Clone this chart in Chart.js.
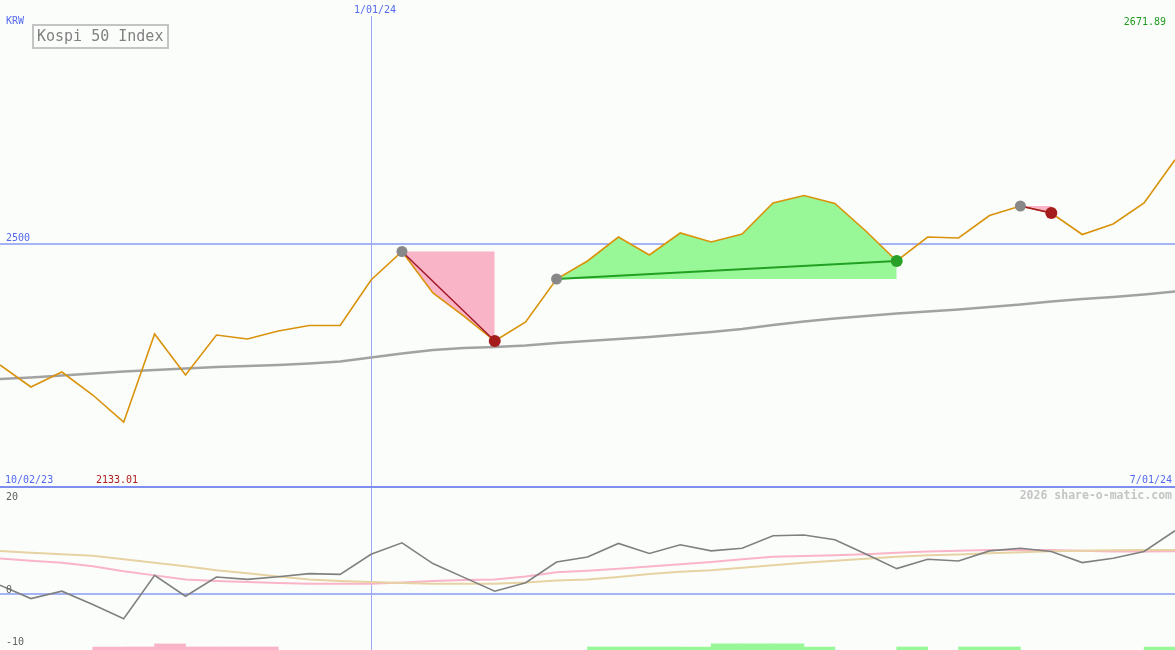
<!DOCTYPE html>
<html><head><meta charset="utf-8">
<script src="https://cdn.jsdelivr.net/npm/chart.js@4.4.1/dist/chart.umd.min.js"></script>
<style>
html,body{margin:0;padding:0;background:#fbfdfb;}
#wrap{position:relative;width:1175px;height:650px;overflow:hidden;background:#fbfdfb;font-family:"DejaVu Sans Mono",monospace;}
#c1{position:absolute;left:0;top:0;}
#c2{position:absolute;left:0;top:488px;}
#sep{position:absolute;left:0;top:486px;width:1175px;height:2px;background:#7e8ef0;}
.lbl{position:absolute;font-size:10px;line-height:10px;white-space:nowrap;}
.blue{color:#5468f0;}
.dk{color:#606060;}
#title{position:absolute;left:32px;top:24px;width:133px;height:21px;border:2px solid #c4c4c4;background:#fbfdfb;}
#title span{position:absolute;left:3px;top:2.5px;font-size:15px;line-height:15px;color:#808080;white-space:nowrap;}
#brand{position:absolute;right:3px;top:490px;font-size:11.5px;line-height:11.5px;font-weight:bold;color:#c4c4c4;white-space:nowrap;}
</style></head>
<body>
<div id="wrap">
  <canvas id="c1" width="1175" height="487"></canvas>
  <canvas id="c2" width="1175" height="162"></canvas>
  <div id="sep"></div>
  <div id="title"><span>Kospi 50 Index</span></div>
  <div class="lbl blue" id="unit" style="left:6px;top:16px;"></div>
  <div class="lbl blue" id="dMid" style="left:354px;top:4.5px;"></div>
  <div class="lbl" id="lastLbl" style="right:9px;top:16.5px;color:#1e9a1e;"></div>
  <div class="lbl blue" id="lvlLbl" style="left:6px;top:233px;"></div>
  <div class="lbl blue" id="dFirst" style="left:5px;top:474.5px;"></div>
  <div class="lbl" id="minLbl" style="left:96px;top:474.5px;color:#b01c1c;"></div>
  <div class="lbl blue" id="dLast" style="right:3px;top:474.5px;"></div>
  <div id="brand">2026 share-o-matic.com</div>
  <div class="lbl dk" id="t0" style="left:6px;top:491.5px;"></div>
  <div class="lbl dk" id="t1" style="left:6px;top:584.5px;"></div>
  <div class="lbl dk" id="t2" style="left:6px;top:636.5px;"></div>
</div>
<script>
// ---------- data ----------
const dates = ['10/02/23','10/16/23','10/23/23','10/30/23','11/06/23','11/13/23','11/20/23','11/27/23','12/04/23','12/11/23','12/18/23','12/25/23',
  '1/01/24','1/08/24','1/15/24','1/22/24','1/29/24','2/05/24','2/12/24','2/19/24','2/26/24','3/04/24','3/11/24','3/18/24','3/25/24',
  '4/01/24','4/08/24','4/15/24','4/22/24','4/29/24','5/06/24','5/13/24','5/20/24','5/27/24','6/03/24','6/10/24','6/17/24','6/24/24','7/01/24'];
const price = [2250.5,2205.3,2236.1,2188.9,2133.01,2314.2,2229.9,2312.1,2303.9,2320.3,2331.6,2331.6,2425.0,2483.6,2398.4,2351.1,2299.8,2338.8,2427.1,2464.1,
  2513.3,2476.4,2521.6,2503.1,2519.5,2583.2,2598.6,2582.1,2525.7,2464.1,2513.3,2511.3,2557.5,2577.0,2562.6,2518.5,2540.0,2583.2,2671.89];
const movingAvg = [2221.8,2224.8,2228.9,2233.0,2237.2,2240.2,2243.3,2246.4,2248.5,2250.5,2253.6,2257.7,2265.9,2274.1,2281.3,2285.4,2287.5,2290.5,2295.7,2299.8,
  2303.9,2308.0,2313.1,2318.3,2324.4,2332.6,2339.8,2346.0,2351.1,2356.3,2360.4,2364.5,2369.6,2374.7,2380.9,2386.0,2390.1,2395.3,2401.4];
const tradeEntry = [13,18,33];
const tradeExit = [16,29,34];
const tradeWin = [false,true,false];
const momentum = [1.71,-0.82,0.57,-1.95,-4.61,3.55,-0.38,3.23,2.79,3.30,3.87,3.74,7.53,9.68,5.77,3.17,0.57,2.16,6.07,7.02,
  9.56,7.67,9.30,8.16,8.67,11.01,11.14,10.25,7.59,4.82,6.58,6.26,8.16,8.67,8.05,5.96,6.77,8.05,11.95];
const momAvgFast = [6.72,6.30,5.92,5.26,4.31,3.55,2.79,2.50,2.28,2.13,1.97,1.97,1.97,2.22,2.47,2.69,2.79,3.36,4.12,4.40,
  4.78,5.20,5.64,6.07,6.58,7.06,7.21,7.34,7.53,7.82,8.05,8.20,8.35,8.35,8.35,8.20,8.05,8.05,8.10];
const momAvgSlow = [8.16,7.82,7.53,7.25,6.58,5.92,5.26,4.50,3.93,3.36,2.79,2.50,2.28,2.13,1.97,1.97,1.97,2.22,2.60,2.79,
  3.26,3.83,4.21,4.50,4.97,5.45,5.92,6.30,6.68,7.06,7.34,7.48,7.72,7.91,8.10,8.20,8.29,8.35,8.35];
const signalStrip = [0,0,0,-1,-1,-2,-1,-1,-1,0, 0,0,0,0,0,0,0,0,0,1, 1,1,1,2,2,2,1,0,0,1, 0,1,1,0,0,0,0,1];
const priceLevels = [2500];
const lowerTicks = [20,0,-10];
const markDateIdx = 12;
const unitLabel = 'KRW';

// ---------- labels ----------
document.getElementById('unit').textContent = unitLabel;
document.getElementById('dMid').textContent = dates[markDateIdx];
document.getElementById('dFirst').textContent = dates[0];
document.getElementById('dLast').textContent = dates[dates.length-1];
document.getElementById('lastLbl').textContent = price[price.length-1].toFixed(2);
document.getElementById('minLbl').textContent = Math.min(...price).toFixed(2);
document.getElementById('lvlLbl').textContent = String(priceLevels[0]);
['t0','t1','t2'].forEach((id,k)=>document.getElementById(id).textContent = String(lowerTicks[k]));

// ---------- guide lines plugin ----------
const guides = {
  id:'guides',
  beforeDatasetsDraw(chart, args, o){
    const {ctx, chartArea:a, scales} = chart;
    ctx.save();
    (o.h||[]).forEach(v=>{
      const y = Math.round(scales.y.getPixelForValue(v));
      ctx.fillStyle = o.hColor; ctx.fillRect(a.left, y-1, a.right-a.left, 2);
    });
    (o.v||[]).forEach(i=>{
      const x = Math.round(scales.x.getPixelForValue(i));
      ctx.fillStyle = o.vColor; ctx.fillRect(x, o.vTop, 1, a.bottom-o.vTop);
    });
    ctx.restore();
  }
};
Chart.register(guides);

const PINK = '#f9b4c8', GREEN_FILL = '#98f898';
const common = {
  responsive:false, animation:false, events:[],
  layout:{padding:0, autoPadding:false},
  plugins:{legend:{display:false}, tooltip:{enabled:false}},
  elements:{point:{radius:0}, line:{tension:0}}
};

// ---------- top chart ----------
const topSets = [];
tradeEntry.forEach((e,t)=>{
  const x = tradeExit[t];
  topSets.push({
    data: price.map((v,i)=> (i>=e && i<=x) ? v : null),
    fill:{value: price[e]}, backgroundColor: tradeWin[t] ? GREEN_FILL : PINK,
    borderWidth:0, borderColor:'transparent', pointRadius:0, spanGaps:false, order:50
  });
  topSets.push({
    data: price.map((v,i)=> (i===e || i===x) ? v : null),
    spanGaps:true, borderColor: tradeWin[t] ? '#22a022' : '#a01828',
    borderWidth: tradeWin[t] ? 2 : 1.5, pointRadius:0, fill:false, order:5
  });
});
topSets.push({data: movingAvg, borderColor:'#a2a2a2', borderWidth:2.5, pointRadius:0, fill:false, order:60});
topSets.push({data: price, borderColor:'#d9920a', borderWidth:1.6, pointRadius:0, fill:false, order:10});
topSets.push({
  data: price.map((v,i)=> tradeEntry.includes(i) ? v : null),
  showLine:false, pointRadius:5.5, pointBackgroundColor:'#888888', pointBorderWidth:0, order:1
});
topSets.push({
  data: price.map((v,i)=> tradeExit.includes(i) ? v : null),
  showLine:false, pointRadius:6, pointBorderWidth:0,
  pointBackgroundColor: price.map((v,i)=>{ const t = tradeExit.indexOf(i); return t>=0 && tradeWin[t] ? '#28a028' : '#a51c1c'; }),
  order:0
});

new Chart(document.getElementById('c1'), {
  type:'line',
  data:{labels:dates, datasets:topSets},
  options:Object.assign({}, common, {
    scales:{
      x:{type:'category', display:false, offset:false},
      y:{type:'linear', display:false, min:2000, max:3000}
    },
    plugins:Object.assign({}, common.plugins, {
      guides:{h:priceLevels, hColor:'#a4b4f4', v:[markDateIdx], vColor:'#9aaaf8', vTop:16}
    })
  })
});

// ---------- lower chart ----------
const stripBase = -10.5, stripUnit = 0.57;
const intervals = dates.slice(0, dates.length-1);
new Chart(document.getElementById('c2'), {
  type:'line',
  data:{labels:dates, datasets:[
    {data: momentum, borderColor:'#808080', borderWidth:1.6, pointRadius:0, fill:false, order:1},
    {data: momAvgFast, borderColor:'#f9b4c8', borderWidth:2, pointRadius:0, fill:false, order:3},
    {data: momAvgSlow, borderColor:'#e6d2a2', borderWidth:2, pointRadius:0, fill:false, order:2},
    {type:'bar', xAxisID:'xb', order:5, grouped:false,
     data: signalStrip.map(s=> s===0 ? null : [stripBase, stripBase + Math.abs(s)*stripUnit]),
     backgroundColor: signalStrip.map(s=> s<0 ? PINK : GREEN_FILL),
     borderWidth:0, borderSkipped:false, barPercentage:1, categoryPercentage:1}
  ]},
  options:Object.assign({}, common, {
    scales:{
      x:{type:'category', display:false, offset:false},
      xb:{type:'category', labels:intervals, display:false, offset:true},
      y:{type:'linear', display:false, min:-10.5, max:20}
    },
    plugins:Object.assign({}, common.plugins, {
      guides:{h:[0], hColor:'#a4b4f4', v:[markDateIdx], vColor:'#9aaaf8', vTop:0}
    })
  })
});
</script>
</body></html>
